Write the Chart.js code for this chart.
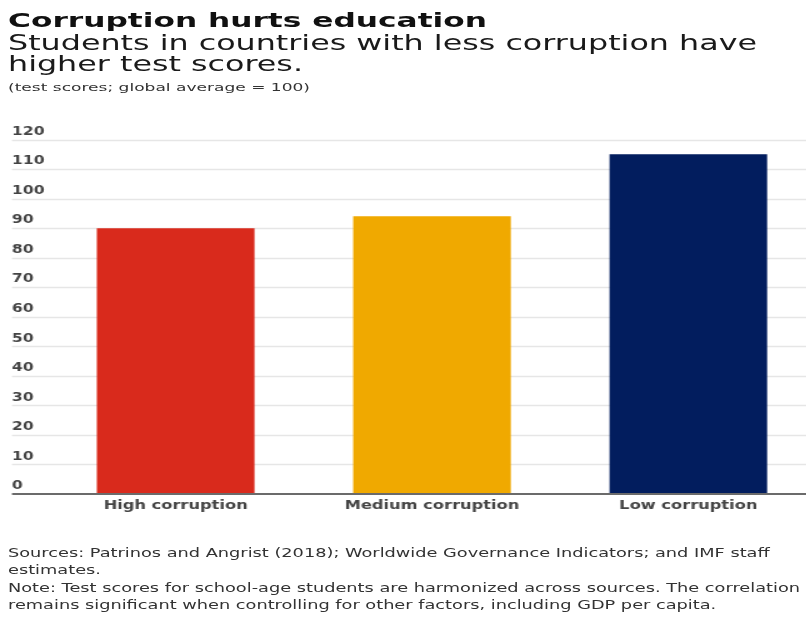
<!DOCTYPE html>
<html>
<head>
<meta charset="utf-8">
<script src="https://cdn.jsdelivr.net/npm/chart.js@4/dist/chart.umd.min.js"></script>
<style>
    html, body { margin: 0; padding: 0; background: #fff; }
    body { width: 806px; height: 617px; position: relative; overflow: hidden; font-family: "DejaVu Sans", sans-serif; }
    #chart { position: absolute; left: 0; top: 0; transform: scaleX(1.25); transform-origin: 0 0; }
    .t { position: absolute; left: 8px; white-space: nowrap; line-height: 1; transform-origin: 0 0; }
</style>
</head>
<body>
<canvas id="chart" width="654" height="617"></canvas>

<div class="t" id="title" data-fit="479" style="top:10.4px;font-size:20px;font-weight:bold;color:#111;">Corruption hurts education</div>
<div class="t" id="sub1" data-fit="749" style="top:32.7px;font-size:20.5px;color:#1a1a1a;">Students in countries with less corruption have</div>
<div class="t" data-ref="sub1" style="top:53.7px;font-size:20.5px;color:#1a1a1a;">higher test scores.</div>
<div class="t" data-fit="302" style="top:81.7px;font-size:11px;color:#333;">(test scores; global average = 100)</div>

<div class="t" data-ref="note1" style="top:546.5px;font-size:12px;color:#333;">Sources: Patrinos and Angrist (2018); Worldwide Governance Indicators; and IMF staff</div>
<div class="t" data-ref="note1" style="top:564px;font-size:12px;color:#333;">estimates.</div>
<div class="t" id="note1" data-fit="792" style="top:581.5px;font-size:12px;color:#333;">Note: Test scores for school-age students are harmonized across sources. The correlation</div>
<div class="t" data-ref="note1" style="top:599px;font-size:12px;color:#333;">remains significant when controlling for other factors, including GDP per capita.</div>

<script>
// data
const categories = ['High corruption', 'Medium corruption', 'Low corruption'];
const scores = [90, 94, 115];
const barColors = ['#d92a1c', '#f0a900', '#021d5e'];
const yMin = 0;
const yMax = 120;
const yStep = 10;

// stretch the header / footer lines to the widths of the reference
const scales = {};
document.querySelectorAll('.t[data-fit]').forEach((el) => {
    const k = Number(el.dataset.fit) / el.getBoundingClientRect().width;
    scales[el.id] = k;
    el.style.transform = `scaleX(${k})`;
});
document.querySelectorAll('.t[data-ref]').forEach((el) => {
    el.style.transform = `scaleX(${scales[el.dataset.ref]})`;
});

// gridlines run across the whole width, past the plot area
const gridLines = {
    id: 'gridLines',
    beforeDatasetsDraw(chart) {
        const { ctx, scales: { y } } = chart;
        ctx.save();
        ctx.strokeStyle = '#e6e6e6';
        ctx.lineWidth = 1.5;
        y.ticks.forEach((t) => {
            if (t.value === 0) return;
            const py = Math.round(y.getPixelForValue(t.value)) + 0.5;
            ctx.beginPath();
            ctx.moveTo(y.left, py);
            ctx.lineTo(chart.width, py);
            ctx.stroke();
        });
        ctx.restore();
    },
    afterDatasetsDraw(chart) {
        const { ctx, scales: { y } } = chart;
        const py = y.getPixelForValue(0);
        ctx.save();
        ctx.strokeStyle = '#6b6b6b';
        ctx.lineWidth = 2;
        ctx.beginPath();
        ctx.moveTo(y.left, py);
        ctx.lineTo(chart.width, py);
        ctx.stroke();
        ctx.restore();
    },
};

const tickFont = { family: 'DejaVu Sans', weight: 'bold' };

new Chart(document.getElementById('chart'), {
    type: 'bar',
    data: {
        labels: categories,
        datasets: [{
            data: scores,
            backgroundColor: barColors,
            borderWidth: 0,
            barPercentage: 0.615,
            categoryPercentage: 1,
        }],
    },
    options: {
        responsive: false,
        animation: false,
        devicePixelRatio: 1,
        // canvas runs a little past the window on the right, like the reference plot
        layout: { padding: { left: 9.6, right: 0.8, top: 139.5, bottom: 93 } },
        plugins: {
            legend: { display: false },
            tooltip: { enabled: false },
        },
        scales: {
            x: {
                grid: { display: false },
                border: { display: false },
                ticks: {
                    color: '#444',
                    font: { ...tickFont, size: 13 },
                    padding: -4,
                    maxRotation: 0,
                    autoSkip: false,
                },
                afterFit(s) { s.height = 30; },
            },
            y: {
                min: yMin,
                max: yMax,
                grid: { display: false },
                border: { display: false },
                ticks: {
                    stepSize: yStep,
                    color: '#444',
                    font: { ...tickFont, size: 12.5 },
                    crossAlign: 'far',
                    labelOffset: -8,
                    padding: 0,
                },
                afterFit(s) { s.width = 28.4; },
            },
        },
    },
    plugins: [gridLines],
});
</script>
</body>
</html>
